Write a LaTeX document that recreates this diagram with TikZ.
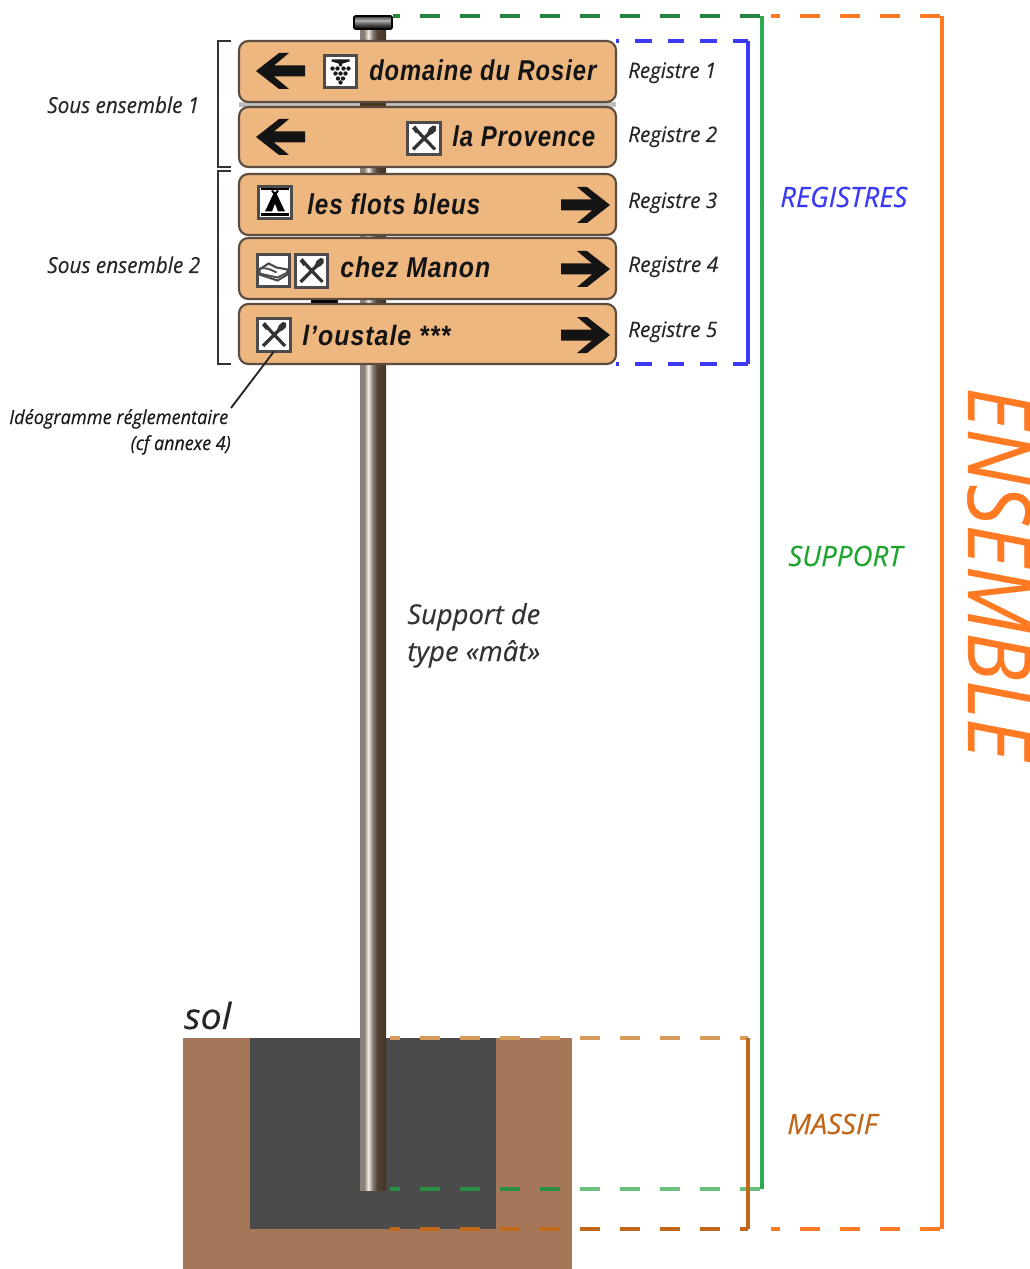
\documentclass[tikz,border=0pt]{standalone}
\usepackage{fontspec}
\usepackage{graphicx}
\setmainfont{Open Sans}[ItalicFeatures={FakeBold=0.25}]
\newfontfamily\signfont{Liberation Sans}[LetterSpace=4]
\newlength{\pxu}\setlength{\pxu}{0.75pt}
\newcommand{\fitw}[2]{\resizebox{#1\pxu}{\height}{#2}}
\definecolor{signfill}{HTML}{EDB77F}
\definecolor{signedge}{HTML}{5C4D40}
\definecolor{soilc}{HTML}{A67659}
\definecolor{concr}{HTML}{4B4B4B}
\definecolor{blueL}{HTML}{3A3AF5}
\definecolor{greenL}{HTML}{2FA84F}
\definecolor{greenT}{HTML}{1FA62E}
\definecolor{orangeL}{HTML}{FF7A22}
\definecolor{massifL}{HTML}{C0671A}
\definecolor{massifT}{HTML}{D69A5C}
\definecolor{inkc}{HTML}{141414}
\pgfdeclarehorizontalshading{poleshade}{100bp}{
 color(0bp)=(black!60!white); color(25bp)=(black!50!white!85!brown);
 color(33bp)=(gray!85!brown); color(41bp)=(white!88!brown); color(49bp)=(gray!90!brown);
 color(58bp)=(brown!35!black!75!gray); color(75bp)=(brown!30!black!85!gray); color(100bp)=(black)}
\pgfdeclareverticalshading{capshade}{100bp}{
 color(0bp)=(black); color(25bp)=(black); color(42bp)=(black!70); color(58bp)=(gray!60!white); color(72bp)=(black!70); color(100bp)=(black)}
\tikzset{
 signbox/.style={draw=signedge,fill=signfill,line width=1.6pt,rounded corners=7pt},
 iconbox/.style={draw=black!70,fill=white,line width=2.2pt,minimum size=24.5pt,inner sep=0pt,outer sep=0pt},
 signtxt/.style={font=\signfont\bfseries\itshape\fontsize{21.5}{23}\selectfont,text=inkc,inner sep=0pt,anchor=base west},
 reglab/.style={font=\itshape\fontsize{16}{18}\selectfont,text=black!85,inner sep=0pt,anchor=base west},
 soulab/.style={font=\itshape\fontsize{16.5}{18}\selectfont,text=black!85,inner sep=0pt,anchor=base west},
 idlab/.style={font=\itshape\fontsize{14.5}{16}\selectfont,text=black!90,inner sep=0pt},
 masttxt/.style={font=\itshape\fontsize{20.5}{23}\selectfont,text=black!80,inner sep=0pt,anchor=base west},
 grouplab/.style={font=\itshape\fontsize{21}{24}\selectfont,inner sep=0pt,anchor=base west},
 dashL/.style={line width=2.3pt,dash pattern=on 15pt off 15pt},
 solidL/.style={line width=2.3pt},
 bracketL/.style={draw=black!80,line width=1.5pt},
 larrow/.pic={\fill[inkc] (-25,0)--(-2,-18)--(8,-18)--(-7,-5.5)--(24,-5.5)--(24,5.5)--(-7,5.5)--(8,18)--(-2,18)--cycle;},
 rarrow/.pic={\fill[inkc] (25,0)--(2,-18)--(-8,-18)--(7,-5.5)--(-24,-5.5)--(-24,5.5)--(7,5.5)--(-8,18)--(2,18)--cycle;},
 cutlery/.pic={
  \draw[black!80,line width=2.4pt] (-9,-10)--(11,11);
  \draw[black!80,line width=2.4pt] (7,-7)--(-11,11);
  \fill[black!80] (3,-5)--(5,-10)--(9,-13)--(12,-12)--(12,-8)--(9,-5)--(5,-3)--cycle;
  \fill[black!80] (-12,-10)--(-9,-13)--(-5,-8)--(-8,-5)--cycle;
 },
 grape/.pic={
  \fill[black!90] (-9,-12)--(9,-12)--(9,-10)--(2,-8)--(1,-5)--(-1,-5)--(-2,-8)--(-9,-10)--cycle;
  \foreach \u/\v in {-8/-3,-3/-3,3/-3,8/-3,-5/2,0/2,5/2,-2.5/7,2.5/7,0/11}{\fill[black!90] (\u,\v) circle (2.2);}
 },
 tent/.pic={
  \draw[black,line width=2.2pt] (-14,-13.5)--(14,-13.5);
  \draw[black,line width=2.2pt] (-14,12)--(14,12);
  \fill[black] (0,-11)--(2,-8)--(10,9)--(3,9)--(0,1)--(-3,9)--(-10,9)--(-2,-8)--cycle;
  \draw[black,line width=1.5pt] (-3,-12)--(0,-8)--(3,-12);
 },
 bed/.pic={
  \draw[black!70,line width=1.6pt,fill=white] (-14,-1)--(-5,-7)--(3,-3)--(14,-1)--(14,4)--(4,10)--(-14,4)--cycle;
  \draw[black!70,line width=1.4pt] (-14,3)--(4,7)--(14,2);
  \draw[black!70,line width=1.4pt] (-14,-2)..controls (-6,-3) and (-3,-1)..(3,2);
 },
}
\begin{document}
\begin{tikzpicture}[x=0.75pt,y=-0.75pt]
\useasboundingbox (0,0) rectangle (1030,1269);
\fill[white] (0,0) rectangle (1030,1269);
% ground
\fill[soilc] (183,1038) rectangle (572,1269);
\fill[concr] (250,1038) rectangle (496,1229);
% pole
\shade[shading=poleshade] (360,26) rectangle (386,1190);
\shade[shading=capshade,draw=black,line width=1.2pt,rounded corners=1pt] (354,16) rectangle (392,29);
% strips behind signs
\fill[black!25] (239,102) rectangle (616,107);
\fill[black!60!brown] (360,102) rectangle (386,107);
\fill[black] (311,299) rectangle (338,303);
% signs
\draw[signbox] (239,41) rectangle (616,102);
\draw[signbox] (239,107) rectangle (616,167);
\draw[signbox] (239,174) rectangle (616,235);
\draw[signbox] (239,238) rectangle (616,299);
\draw[signbox] (239,304) rectangle (616,364);
\pic at (281,71) {larrow};
\pic at (281,137) {larrow};
\pic at (585,205) {rarrow};
\pic at (585,269) {rarrow};
\pic at (585,335) {rarrow};
% pictograms
\node[iconbox] (ic1) at (340.5,71.5) {};
\pic at (ic1) {grape};
\node[iconbox] (ic2) at (424,138.5) {};
\pic at (ic2) {cutlery};
\node[iconbox] (ic3) at (275,202.5) {};
\pic at (ic3) {tent};
\node[iconbox] (ic4) at (273.5,270.5) {};
\pic at (ic4) {bed};
\node[iconbox] (ic5) at (311.5,271) {};
\pic at (ic5) {cutlery};
\node[iconbox] (ic6) at (274,335) {};
\pic at (ic6) {cutlery};
% sign texts
\node[signtxt] (t1) at (369,81) {\fitw{227}{domaine du Rosier}};
\node[signtxt] (t2) at (452,147) {\fitw{143}{la Provence}};
\node[signtxt] (t3) at (307,215) {\fitw{173}{les flots bleus}};
\node[signtxt] (t4) at (340,277) {\fitw{150}{chez Manon}};
\node[signtxt,font=\signfont\itshape\bfseries\fontsize{21}{23}\selectfont] (t5) at (302,345) {\fitw{148}{l’oustale ***}};
% registre labels
\node[reglab] (r1) at (628,78) {\fitw{88}{Registre 1}};
\node[reglab] (r2) at (628,142) {\fitw{89}{Registre 2}};
\node[reglab] (r3) at (628,208) {\fitw{89}{Registre 3}};
\node[reglab] (r4) at (628,272) {\fitw{90}{Registre 4}};
\node[reglab] (r5) at (628,337) {\fitw{89}{Registre 5}};
% sous ensembles
\node[soulab] (s1) at (47,113) {\fitw{152}{Sous ensemble 1}};
\node[soulab] (s2) at (47,273) {\fitw{153}{Sous ensemble 2}};
\draw[bracketL] (231,41)--(218,41)--(218,167)--(231,167);
\draw[bracketL] (231,171)--(218,171)--(218,364)--(231,364);
% ideogramme
\node[idlab,anchor=base west] (id1) at (9,424) {\fitw{219}{Idéogramme réglementaire}};
\node[idlab,anchor=base east] (id2) at (231,450) {\fitw{100}{(cf annexe 4)}};
\coordinate (idend) at (231,408);
\draw[black!85,line width=1.4pt] (ic6.south) -- (idend);
% mast label
\node[masttxt] (m1) at (407,624) {\fitw{133}{Support de}};
\node[masttxt] (m2) at (407,661) {\fitw{133}{type «mât»}};
\node[font=\itshape\fontsize{27}{30}\selectfont,text=black!85,inner sep=0pt,anchor=base west] (sol) at (184,1029) {\fitw{47}{sol}};
% blue
\coordinate (bA) at (616,41); \coordinate (bB) at (748,41); \coordinate (bC) at (748,364); \coordinate (bD) at (616,364);
\draw[blueL,solidL] (bB)--(bC);
\draw[blueL,line width=2.3pt,dash pattern=on 12.4pt off 12pt,dash phase=1.15pt] (bB)--(bA);
\draw[blueL,line width=2.3pt,dash pattern=on 12.4pt off 12pt,dash phase=1.15pt] (bC)--(bD);
% green
\coordinate (gA) at (393,16); \coordinate (gB) at (762,16); \coordinate (gC) at (762,1189); \coordinate (gD) at (390,1189);
\draw[greenL!80!black,dashL,dash phase=28.5pt] (gB)--(gA);
\draw[greenL,solidL] (gB)--(gC);
\draw[greenL!72!white,dashL,dash phase=28.5pt] (gC)--(gD);
\begin{scope}
\clip (380,1180) rectangle (572,1200);
\draw[greenL!85!black,dashL,dash phase=28.5pt] (gC)--(gD);
\end{scope}
% orange
\coordinate (oA) at (771,16); \coordinate (oB) at (942,16); \coordinate (oC) at (942,1229); \coordinate (oD) at (771,1229);
\draw[orangeL,dashL,dash phase=28.5pt] (oB)--(oA);
\draw[orangeL,solidL] (oB)--(oC);
\draw[orangeL,dashL,dash phase=28.5pt] (oC)--(oD);
% massif
\coordinate (mA) at (390,1038); \coordinate (mB) at (748,1038); \coordinate (mC) at (748,1229); \coordinate (mD) at (390,1229);
\draw[massifT,dashL,dash phase=9pt] (mB)--(mA);
\draw[massifL,dashL,dash phase=9pt] (mC)--(mD);
\draw[massifL,solidL] (mB)--(mC);
% group labels
\node[grouplab,text=blueL] (gr) at (780,207) {\fitw{127}{REGISTRES}};
\node[grouplab,text=greenT] (gs) at (788,566) {\fitw{114}{SUPPORT}};
\node[grouplab,text=massifL] (gm) at (787,1134) {\fitw{90}{MASSIF}};
\node[font=\itshape\fontsize{66}{70}\selectfont,text=orangeL,inner sep=0pt,anchor=base west,rotate=-90] (ens) at (968,387) {\fitw{372}{ENSEMBLE}};
\end{tikzpicture}
\end{document}
